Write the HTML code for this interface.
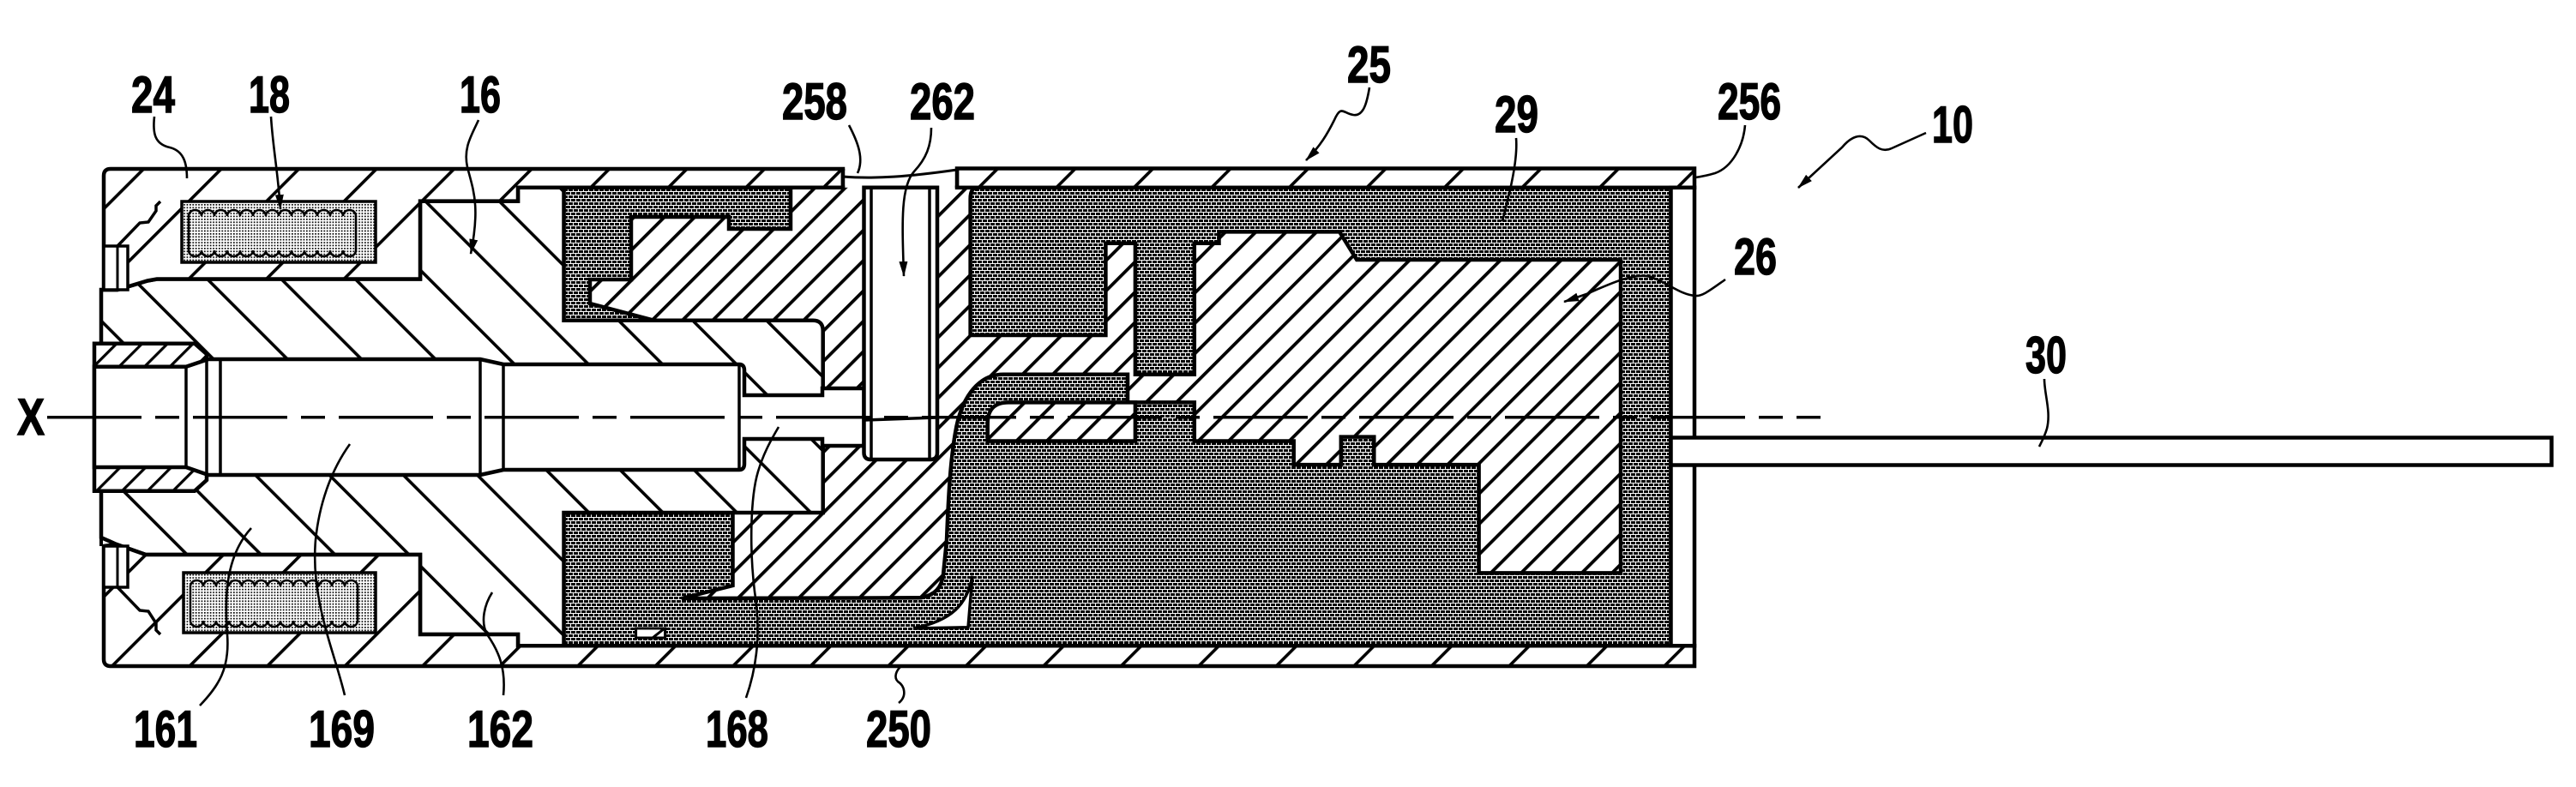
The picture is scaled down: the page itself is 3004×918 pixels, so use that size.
<!DOCTYPE html>
<html><head><meta charset="utf-8"><style>
html,body{margin:0;padding:0;background:#fff;}
svg{display:block;}
text{font-family:"Liberation Sans",Arial,sans-serif;font-weight:bold;font-size:60px;fill:#000;stroke:#000;stroke-width:1.4px;}
</style></head><body>
<svg xmlns="http://www.w3.org/2000/svg" width="3004" height="918" viewBox="0 0 3004 918">
<defs>
<pattern id="hH" width="64" height="64" patternUnits="userSpaceOnUse" patternTransform="rotate(45)"><rect width="64" height="64" fill="#fff"/><rect width="3.6" height="64" fill="#000"/></pattern>
<pattern id="hC" width="61" height="61" patternUnits="userSpaceOnUse" patternTransform="rotate(-45)"><rect width="61" height="61" fill="#fff"/><rect width="3.6" height="61" fill="#000"/></pattern>
<pattern id="hM" width="25" height="25" patternUnits="userSpaceOnUse" patternTransform="rotate(45)"><rect width="25" height="25" fill="#fff"/><rect width="3.8" height="25" fill="#000"/></pattern>
<pattern id="hS" width="21" height="21" patternUnits="userSpaceOnUse" patternTransform="rotate(45)"><rect width="21" height="21" fill="#fff"/><rect width="3.2" height="21" fill="#000"/></pattern>
<pattern id="dk" width="6" height="8" patternUnits="userSpaceOnUse"><rect width="6" height="8" fill="#fff"/><rect x="0" y="0" width="5" height="3" fill="#000"/><rect x="3" y="4" width="3" height="3" fill="#000"/><rect x="0" y="4" width="2" height="3" fill="#000"/></pattern>
<pattern id="cl" width="3.4" height="3.4" patternUnits="userSpaceOnUse"><rect width="3.4" height="3.4" fill="#fff"/><rect width="1.7" height="1.7" fill="#000"/></pattern>
<marker id="ah" markerWidth="18" markerHeight="10" refX="17" refY="5" orient="auto" markerUnits="userSpaceOnUse"><path d="M0,0 L18,5 L0,10 Z" fill="#000"/></marker>
</defs>

<g stroke="#000" stroke-width="4.5" stroke-linejoin="miter">
<rect x="657.5" y="218.8" width="1291" height="534.5" fill="url(#hM)" stroke="none"/>

<path fill="url(#dk)" d="M1140,218.7 L1948.5,218.7 L1948.5,753.3 L657.5,753.3 L657.5,598 L854.5,598 L854.5,683 L795,698 L1074,697.3 C1090,694 1098,686 1100,670 L1104,630 C1106,580 1108,540 1114,505 C1120,468 1138,437 1170,436.8 L1315,436.8 L1315,469.4 L1392.8,469.4 L1392.8,514.5 L1508.7,514.5 L1508.7,542.1 L1563.8,542.1 L1563.8,509.6 L1602.3,509.6 L1602.3,542.1 L1724.6,542.1 L1724.6,668.4 L1890,668.4 L1890,303 L1582.2,303 L1562.1,270.4 L1421.5,270.4 L1421.5,283.8 L1392.8,283.8 L1392.8,436.8 L1323.9,436.8 L1323.9,283.8 L1289.4,283.8 L1289.4,391 L1131.6,391 L1131.6,232 Q1131.6,218.7 1140,218.7 Z"/>

<path fill="url(#dk)" d="M657.5,218.8 L922,218.8 L922,267 L850,267 L850,253 L736,253 L736,326 L688,326 L688,354 L763,373.8 L657.5,373.8 Z"/>

<path fill="url(#hM)" d="M1151.7,514.5 L1151.7,494 Q1151.7,469.4 1176,469.4 L1323.9,469.4 L1323.9,514.5 Z"/>

<path fill="#fff" stroke-width="3.5" d="M1065,733 L1129,731.7 L1134,671.7 C1128,705 1110,724 1065,733 Z"/>
<rect x="741.6" y="733" width="34" height="11" fill="#fff" stroke-width="3"/>
<line x1="761" y1="744" x2="775" y2="733" stroke-width="3"/>

<path fill="url(#hC)" d="M118,338 L137,338 L172,327.5 L183,325.5 L490,325.5 L490,234.6 L604,234.6 L604,218.8 L657.5,218.8 L657.5,373.8 L948,373.8 Q959.7,373.8 959.7,386 L959.7,598 L657.5,598 L657.5,753.3 L604,753.3 L604,740 L490,740 L490,647 L183,647 L170,647 L136,635 L118,627 Z"/>

<path fill="url(#hH)" d="M121,205 Q121,197 129,197 L983,197 L983,218.8 L604,218.8 L604,234.6 L490,234.6 L490,325.5 L183,325.5 L172,327.5 L137,338 L121,338 Z"/>
<path fill="url(#hH)" d="M121,637 L136,635 L170,647 L183,647 L490,647 L490,740 L604,740 L604,753.3 L1976,753.3 L1976,777 L129,777 Q121,777 121,769 Z"/>
<rect x="1116" y="196.5" width="860" height="22.3" fill="url(#hH)"/>
<rect x="1948.5" y="218.8" width="27.5" height="534.5" fill="#fff"/>

<path fill="#fff" stroke="none" d="M985,199 L1114,199 L1114,216.5 L985,216.5 Z"/>
<line x1="983" y1="197" x2="983" y2="219" />
<line x1="1116" y1="197" x2="1116" y2="219" />
<path fill="none" stroke-width="3" d="M983,206 C1020,209 1060,206 1116,198"/>

<path fill="url(#hS)" d="M110,400.7 L227,400.7 L241,413 L241,560 L227,572.7 L110,572.7 Z"/>

<path fill="#fff" d="M110,427.7 L217,427.7 L243,419 L560,419 L587,425 L862,425 Q868,425 868,432 L868,461 L959,461 L959,453 L1007.5,453 L1007.5,520 L959,520 L959,512 L868,512 L868,541 Q868,548 862,548 L587,548 L560,554 L243,554 L217,545 L110,545 Z"/>
<g stroke-width="3.5">
<line x1="217" y1="427.7" x2="217" y2="545"/>
<line x1="241" y1="419" x2="241" y2="554"/>
<line x1="257" y1="419" x2="257" y2="554"/>
<line x1="560" y1="419" x2="560" y2="554"/>
<line x1="587" y1="425" x2="587" y2="548"/>
<line x1="862" y1="425" x2="862" y2="548"/>
</g>

<path fill="#fff" d="M1007.5,218.8 L1093,218.8 L1093,528 Q1093,536 1085,536 L1015.5,536 Q1007.5,536 1007.5,528 Z"/>
<line x1="1016" y1="218.8" x2="1016" y2="536" stroke-width="3.5"/>
<line x1="1084" y1="218.8" x2="1084" y2="536" stroke-width="3.5"/>
<line x1="1008" y1="490" x2="1093" y2="487" stroke-width="3.5"/>

<rect x="212" y="235" width="226" height="71" fill="url(#cl)" stroke-width="3.5"/>
<rect x="214" y="668" width="224" height="70" fill="url(#cl)" stroke-width="3.5"/>
<g fill="none" stroke-width="2.5">
<path d="M220,252 a7.5,7 0 0 1 15,0 a7.5,7 0 0 1 15,0 a7.5,7 0 0 1 15,0 a7.5,7 0 0 1 15,0 a7.5,7 0 0 1 15,0 a7.5,7 0 0 1 15,0 a7.5,7 0 0 1 15,0 a7.5,7 0 0 1 15,0 a7.5,7 0 0 1 15,0 a7.5,7 0 0 1 15,0 a7.5,7 0 0 1 15,0 a7.5,7 0 0 1 15,0 a7.5,7 0 0 1 15,0 L415,292 a7.5,7 0 0 1 -15,0 a7.5,7 0 0 1 -15,0 a7.5,7 0 0 1 -15,0 a7.5,7 0 0 1 -15,0 a7.5,7 0 0 1 -15,0 a7.5,7 0 0 1 -15,0 a7.5,7 0 0 1 -15,0 a7.5,7 0 0 1 -15,0 a7.5,7 0 0 1 -15,0 a7.5,7 0 0 1 -15,0 a7.5,7 0 0 1 -15,0 a7.5,7 0 0 1 -15,0 a7.5,7 0 0 1 -15,0 Z"/>
<path d="M222,684 a7.5,7 0 0 1 15,0 a7.5,7 0 0 1 15,0 a7.5,7 0 0 1 15,0 a7.5,7 0 0 1 15,0 a7.5,7 0 0 1 15,0 a7.5,7 0 0 1 15,0 a7.5,7 0 0 1 15,0 a7.5,7 0 0 1 15,0 a7.5,7 0 0 1 15,0 a7.5,7 0 0 1 15,0 a7.5,7 0 0 1 15,0 a7.5,7 0 0 1 15,0 a7.5,7 0 0 1 15,0 L417,724 a7.5,7 0 0 1 -15,0 a7.5,7 0 0 1 -15,0 a7.5,7 0 0 1 -15,0 a7.5,7 0 0 1 -15,0 a7.5,7 0 0 1 -15,0 a7.5,7 0 0 1 -15,0 a7.5,7 0 0 1 -15,0 a7.5,7 0 0 1 -15,0 a7.5,7 0 0 1 -15,0 a7.5,7 0 0 1 -15,0 a7.5,7 0 0 1 -15,0 a7.5,7 0 0 1 -15,0 a7.5,7 0 0 1 -15,0 Z"/>
</g>

<rect x="121" y="287" width="28" height="51" fill="#fff" stroke-width="3.5"/>
<line x1="137" y1="287" x2="137" y2="338" stroke-width="3"/>
<rect x="121" y="637" width="28" height="48" fill="#fff" stroke-width="3.5"/>
<line x1="137" y1="637" x2="137" y2="685" stroke-width="3"/>
<polyline fill="none" stroke-width="3.5" points="137,287 163,260 173,259 182,246 182,240 187,235"/>
<polyline fill="none" stroke-width="3.5" points="137,685 163,712 173,713 182,727 182,735 187,740"/>
<line x1="118" y1="338" x2="118" y2="400.7" stroke-width="4"/>
<line x1="118" y1="572.7" x2="118" y2="637" stroke-width="4"/>

<rect x="1948.5" y="510.5" width="1027" height="32" fill="#fff" stroke-width="4.5"/>
</g>

<line x1="55" y1="486.7" x2="2123" y2="486.7" stroke="#000" stroke-width="3.5" stroke-dasharray="110 16 28 16"/>

<g fill="none" stroke="#000" stroke-width="2.6">
<path d="M180,136 C178,155 180,168 198,172 C214,176 218,190 218,208"/>
<path d="M316,136 C318,170 324,200 327,244" marker-end="url(#ah)"/>
<path d="M558,140 C550,158 540,172 545,195 C552,222 560,240 549,296" marker-end="url(#ah)"/>
<path d="M990,146 C1000,165 1008,185 1000,202"/>
<path d="M1086,149 C1086,170 1080,185 1066,200 C1050,218 1052,260 1054,322" marker-end="url(#ah)"/>
<path d="M1597,102 C1594,120 1590,136 1578,134 C1566,132 1564,122 1556,140 C1548,156 1540,170 1523,187" marker-end="url(#ah)"/>
<path d="M1768,161 C1770,185 1762,220 1752,258"/>
<path d="M2035,146 C2033,170 2020,195 2000,202 C1990,205 1984,206 1977,207"/>
<path d="M2246,155 L2206,173 C2195,178 2188,172 2180,164 C2170,154 2158,160 2148,172 L2097,219" marker-end="url(#ah)"/>
<path d="M2012,326 C1995,338 1985,346 1977,345 C1960,344 1945,330 1925,323 C1905,318 1880,330 1850,343 L1824,352" marker-end="url(#ah)"/>
<path d="M2384,442 C2384,460 2392,480 2387,500 C2384,510 2380,517 2378,521"/>
<path d="M233,823 C255,800 268,780 265,740 C262,700 262,650 293,616"/>
<path d="M402,811 C390,760 362,700 368,630 C372,590 385,550 408,518"/>
<path d="M587,811 C590,780 582,760 568,740 C560,725 565,705 574,691"/>
<path d="M870,814 C882,780 888,740 880,690 C874,640 875,580 884,550 C890,530 898,515 908,498"/>
<path d="M1048,820 C1058,812 1055,800 1047,795 C1042,790 1045,782 1051,777"/>
</g>

<text x="153" y="131" textLength="51" lengthAdjust="spacingAndGlyphs">24</text>
<text x="290" y="131" textLength="48" lengthAdjust="spacingAndGlyphs">18</text>
<text x="536" y="131" textLength="48" lengthAdjust="spacingAndGlyphs">16</text>
<text x="912" y="139" textLength="76" lengthAdjust="spacingAndGlyphs">258</text>
<text x="1061" y="139" textLength="76" lengthAdjust="spacingAndGlyphs">262</text>
<text x="1571" y="96" textLength="51" lengthAdjust="spacingAndGlyphs">25</text>
<text x="1743" y="154" textLength="51" lengthAdjust="spacingAndGlyphs">29</text>
<text x="2003" y="139" textLength="74" lengthAdjust="spacingAndGlyphs">256</text>
<text x="2253" y="166" textLength="48" lengthAdjust="spacingAndGlyphs">10</text>
<text x="2022" y="320" textLength="50" lengthAdjust="spacingAndGlyphs">26</text>
<text x="2362" y="435" textLength="48" lengthAdjust="spacingAndGlyphs">30</text>
<text x="156" y="871" textLength="74" lengthAdjust="spacingAndGlyphs">161</text>
<text x="360" y="871" textLength="77" lengthAdjust="spacingAndGlyphs">169</text>
<text x="545" y="871" textLength="77" lengthAdjust="spacingAndGlyphs">162</text>
<text x="823" y="871" textLength="73" lengthAdjust="spacingAndGlyphs">168</text>
<text x="1010" y="871" textLength="76" lengthAdjust="spacingAndGlyphs">250</text>
<text x="20" y="507" textLength="32" lengthAdjust="spacingAndGlyphs">X</text>
</svg>
</body></html>
